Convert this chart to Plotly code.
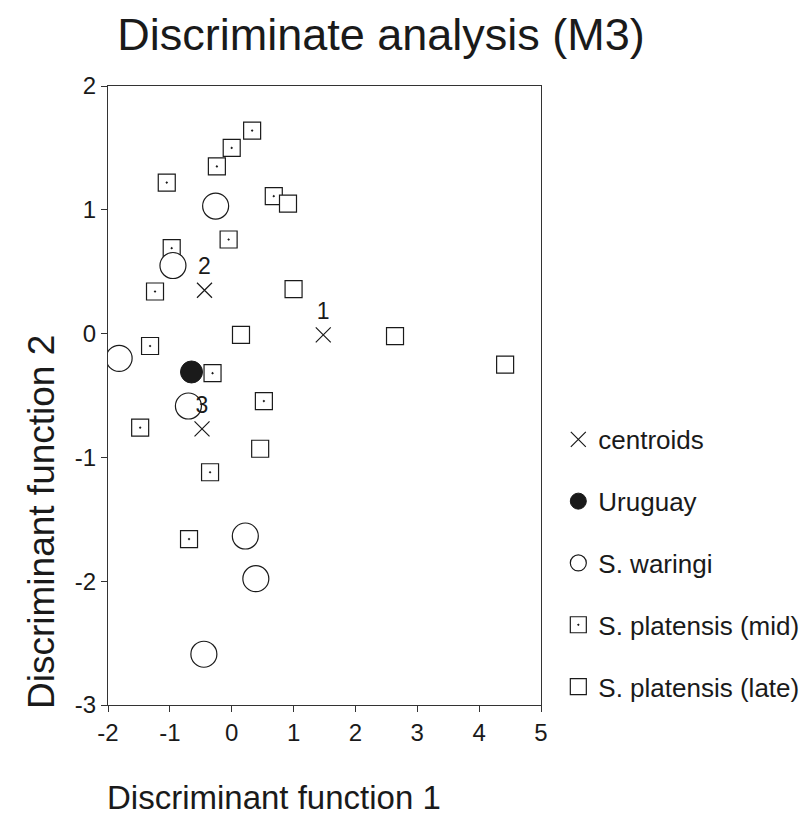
import plotly.graph_objects as go

# ---- data ----
centroid_x = [1.48, -0.44, -0.48]
centroid_y = [-0.01, 0.35, -0.77]
centroid_labels = ["1", "2", "3"]

uruguay_x = [-0.65]
uruguay_y = [-0.31]

waringi_x = [-0.26, -0.95, -1.82, -0.70, 0.22, 0.39, -0.45]
waringi_y = [1.03, 0.55, -0.20, -0.585, -1.635, -1.98, -2.59]

mid_x = [0.33, 0.0, -0.24, -1.05, 0.68, -0.05, -0.97, -1.24, -1.32, -0.31, 0.52, -1.48, -0.35, -0.69]
mid_y = [1.64, 1.50, 1.35, 1.22, 1.11, 0.76, 0.69, 0.34, -0.10, -0.32, -0.545, -0.76, -1.12, -1.66]

late_x = [0.91, 1.0, 0.15, 2.64, 4.42, 0.46]
late_y = [1.05, 0.36, -0.01, -0.02, -0.25, -0.93]

xtick_vals = [-2, -1, 0, 1, 2, 3, 4, 5]
xtick_text = ["-2", "-1", "0", "1", "2", "3", "4", "5"]
ytick_vals = [-3, -2, -1, 0, 1, 2]
ytick_text = ["-3", "-2", "-1", "0", "1", "2"]

FONT = "Liberation Sans, Arial, sans-serif"
INK = "#1a1a1a"

fig = go.Figure()

fig.add_trace(go.Scatter(
    x=mid_x, y=mid_y, mode="markers", name="S. platensis (mid)",
    marker=dict(symbol="square-dot", size=17, color="white",
                line=dict(color=INK, width=1.2)),
    legendgroup="d", legendrank=4,
))
fig.add_trace(go.Scatter(
    x=late_x, y=late_y, mode="markers", name="S. platensis (late)",
    marker=dict(symbol="square", size=17, color="white",
                line=dict(color=INK, width=1.2)),
    legendgroup="e", legendrank=5,
))
fig.add_trace(go.Scatter(
    x=waringi_x, y=waringi_y, mode="markers", name="S. waringi",
    marker=dict(symbol="circle", size=26, color="white",
                line=dict(color=INK, width=1.2)),
    legendgroup="c", legendrank=3,
))
fig.add_trace(go.Scatter(
    x=uruguay_x, y=uruguay_y, mode="markers", name="Uruguay",
    marker=dict(symbol="circle", size=22, color=INK,
                line=dict(color=INK, width=1)),
    legendgroup="b", legendrank=2,
))
fig.add_trace(go.Scatter(
    x=centroid_x, y=centroid_y, mode="markers+text", name="centroids",
    text=centroid_labels, textposition="top center",
    textfont=dict(family=FONT, size=23, color=INK),
    marker=dict(symbol="x-thin", size=15, line=dict(color=INK, width=1.2)),
    legendgroup="a", legendrank=1,
))

axis_common = dict(
    showgrid=False, zeroline=False, showline=True, linecolor="#333",
    linewidth=1.3, mirror=True, ticks="outside", ticklen=6,
    tickcolor="#333", tickwidth=1.2,
    tickfont=dict(family=FONT, size=24, color=INK),
)

fig.update_xaxes(range=[-2, 5], tickmode="array", tickvals=xtick_vals,
                 ticktext=xtick_text, **axis_common)
fig.update_yaxes(range=[-3, 2], tickmode="array", tickvals=ytick_vals,
                 ticktext=ytick_text, **axis_common)

# page body has an 8px margin, so the figure is 8px smaller than the window
fig.update_layout(
    width=802, height=818,
    margin=dict(l=100, r=269, t=78, b=121, autoexpand=False),
    paper_bgcolor="white", plot_bgcolor="white",
    font=dict(family=FONT, color=INK),
    title=dict(text="Discriminate analysis (M3)", x=(381 - 8) / 802,
               xanchor="center", y=1 - 26 / 818, yanchor="middle",
               yref="container",
               font=dict(family=FONT, size=45, color=INK)),
    showlegend=True,
    legend=dict(x=1.04, xanchor="left", y=0.467, yanchor="top",
                traceorder="grouped", tracegroupgap=25,
                font=dict(family=FONT, size=26, color=INK),
                bgcolor="rgba(0,0,0,0)", itemsizing="trace"),
    annotations=[
        dict(text="Discriminant function 1", xref="paper", yref="paper",
             x=0.383, y=-0.149, xanchor="center", yanchor="middle",
             showarrow=False, font=dict(family=FONT, size=33, color=INK)),
        dict(text="Discriminant function 2", xref="paper", yref="paper",
             x=-0.152, y=0.296, xanchor="center", yanchor="middle",
             textangle=-90, showarrow=False,
             font=dict(family=FONT, size=37, color=INK)),
    ],
)

fig.write_html("out.html")
